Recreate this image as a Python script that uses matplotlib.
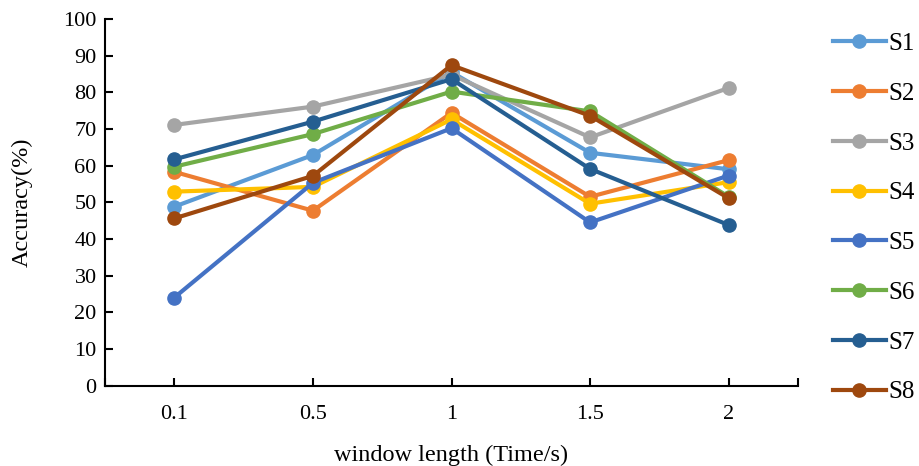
import numpy as np
import matplotlib.pyplot as plt

plt.rcParams['font.family'] = ['Liberation Serif', 'DejaVu Serif']

window = ['0.1', '0.5', '1', '1.5', '2']
names = ['S1', 'S2', 'S3', 'S4', 'S5', 'S6', 'S7', 'S8']

s1 = [48.8, 62.9, 85.5, 63.5, 59.0]
s2 = [58.3, 47.7, 74.4, 51.5, 61.5]
s3 = [71.1, 76.1, 84.8, 67.7, 81.2]
s4 = [52.9, 54.2, 72.6, 49.6, 55.5]
s5 = [24.0, 55.3, 70.2, 44.5, 57.3]
s6 = [59.7, 68.6, 80.2, 74.8, 51.5]
s7 = [61.7, 72.0, 83.6, 59.1, 43.8]
s8 = [45.6, 57.2, 87.4, 73.6, 51.1]
series = [s1, s2, s3, s4, s5, s6, s7, s8]

colors = ['#5B9BD5', '#ED7D31', '#A5A5A5', '#FFC000',
          '#4472C4', '#70AD47', '#255E91', '#9E480E']

fig = plt.figure(figsize=(9.19, 4.66), dpi=100)
ax = fig.add_axes([0.1143, 0.1727, 0.7540, 0.7865])

x = np.arange(len(window))
for nm, vals, c in zip(names, series, colors):
    ax.plot(x, vals, '-o', color=c, lw=3, ms=9.5, label=nm)

ax.set_xlim(-0.5, len(window) - 0.5)
ax.set_ylim(0, 100)
ax.set_yticks(np.arange(0, 101, 10))
ax.set_xticks(x)
ax.set_xticklabels(window)
ax.set_xticks([-0.5, len(window) - 0.5], minor=True)

for sp in ['top', 'right']:
    ax.spines[sp].set_visible(False)
for sp in ['left', 'bottom']:
    ax.spines[sp].set_linewidth(1.5)

ax.tick_params(axis='both', which='both', direction='in', length=6, width=1.5,
               labelsize=16)
ax.tick_params(axis='x', pad=14)
ax.tick_params(axis='y', pad=6)

ax.set_xlabel('window length (Time/s)', fontsize=17.5, labelpad=15)
ax.set_ylabel('Accuracy(%)', fontsize=17.5, labelpad=22)

fig.legend(loc='upper left', bbox_to_anchor=(0.906, 0.93), frameon=False,
           fontsize=18, handlelength=2.15, handletextpad=0.08, labelspacing=1.09,
           borderpad=0, borderaxespad=0)

fig.savefig('out.png', dpi=100)
